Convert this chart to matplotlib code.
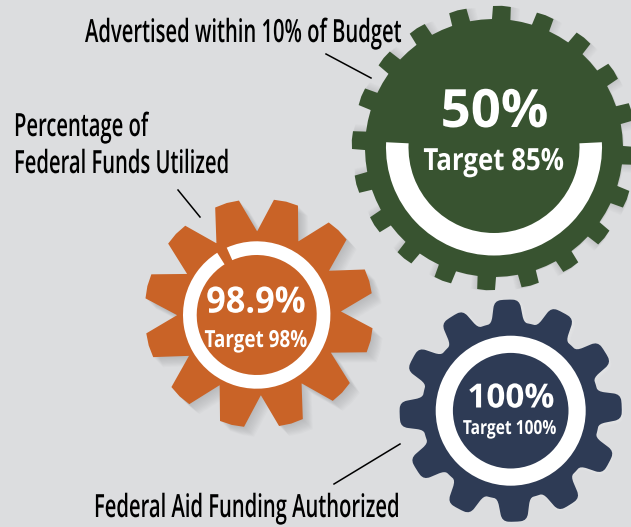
import numpy as np
import matplotlib
matplotlib.use("Agg")
import matplotlib.pyplot as plt
from matplotlib.patches import PathPatch, Wedge
from matplotlib.path import Path
from matplotlib.patheffects import AbstractPathEffect
from matplotlib.transforms import Affine2D

# values
labels = ["50%", "98.9%", "100%"]
targets = ["Target 85%", "Target 98%", "Target 100%"]
ring_spans = [185.6, 351.6, 360.0]  # degrees of white ring actually drawn
colors = ["#385330", "#c96327", "#2e3b55"]

BG = "#dcdddf"
FONT = ["Open Sans", "DejaVu Sans"]


# no condensed font installed, so squeeze the glyphs sideways when drawn
class Squeeze(AbstractPathEffect):
    def __init__(self, sx, x0):
        super().__init__()
        self.sx = sx
        self.x0 = x0

    def draw_path(self, renderer, gc, tpath, affine, rgbFace=None):
        t = affine + Affine2D().translate(-self.x0, 0).scale(self.sx, 1).translate(self.x0, 0)
        renderer.draw_path(gc, tpath, t, rgbFace)


def condText(x, y, s, size, sx, color="black", weight="normal", ha="center", va="center", zorder=5):
    x0 = ax.transData.transform((x, y))[0]
    t = ax.text(x, y, s, fontsize=size, family=FONT, color=color, fontweight=weight,
                ha=ha, va=va, zorder=zorder)
    t.set_path_effects([Squeeze(sx, x0)])
    return t


# outline of a gear, screen angles (y axis points down)
def gearPath(cx, cy, teeth, start, root, outer, base, top, rnd=0.0, rot=0.0):
    pts = []
    step = 360.0 / teeth
    for k in range(teeth):
        c = start + rot + k * step
        for a, r in [(c - base, root), (c - top, outer), (c, outer + 0.4), (c + top, outer), (c + base, root)]:
            pts.append((r * np.cos(np.radians(a)), r * np.sin(np.radians(a))))
        if step / 2 > base:
            a = c + step / 2
            pts.append((root * np.cos(np.radians(a)), root * np.sin(np.radians(a))))
    pts = np.array(pts) + [cx, cy]
    if rnd == 0:
        verts = list(pts) + [pts[0]]
        codes = [Path.MOVETO] + [Path.LINETO] * (len(pts) - 1) + [Path.CLOSEPOLY]
        return Path(verts, codes)
    verts, codes = [], []
    n = len(pts)
    for i in range(n):
        p, a, b = pts[i], pts[i - 1], pts[(i + 1) % n]
        d1 = min(rnd, np.linalg.norm(a - p) / 2)
        d2 = min(rnd, np.linalg.norm(b - p) / 2)
        p1 = p + (a - p) / np.linalg.norm(a - p) * d1
        p2 = p + (b - p) / np.linalg.norm(b - p) * d2
        verts.append(p1)
        codes.append(Path.MOVETO if i == 0 else Path.LINETO)
        verts += [p, p2]
        codes += [Path.CURVE3, Path.CURVE3]
    verts.append(verts[0])
    codes.append(Path.CLOSEPOLY)
    return Path(verts, codes)


fig = plt.figure(figsize=(6.31, 5.27), dpi=100, facecolor=BG)
ax = fig.add_axes([0, 0, 1, 1])
ax.set_xlim(0, 631)
ax.set_ylim(527, 0)
ax.axis("off")

gears = [
    dict(cx=494, cy=148, teeth=20, start=-86.8, root=129, outer=142, base=4.1, top=3.6, rnd=0,
         rx=494, ry=147.5, r1=108, r2=85.5, th=-2.8),
    dict(cx=259, cy=313.3, teeth=12, start=-76.3, root=81.7, outer=114.5, base=15.1, top=6.2, rnd=0,
         rx=256.7, ry=315, r1=73.7, r2=60, th=-114),
    dict(cx=510.7, cy=410.7, teeth=12, start=-92, root=89, outer=111, base=10.5, top=6.5, rnd=7,
         rx=510.7, ry=410.7, r1=75, r2=57.8, th=0),
]
shadows = [
    dict(rot=0.45, n=7, dx=0.2, dy=0.1, col="#a0a1a3", alpha=0.05),
    dict(rot=0.0, n=10, dx=1.0, dy=1.0, col="#8a8b8d", alpha=0.045),
    dict(rot=0.3, n=4, dx=0.4, dy=0.3, col="#f0f0f1", alpha=0.12),
]

for g, s, col, span in zip(gears, shadows, colors, ring_spans):
    args = (g["teeth"], g["start"], g["root"], g["outer"], g["base"], g["top"], g["rnd"])
    for i in range(s["n"], 0, -1):
        p = gearPath(g["cx"] + i * s["dx"], g["cy"] + i * s["dy"], *args, rot=i * s["rot"])
        ax.add_patch(PathPatch(p, fc=s["col"], ec="none", alpha=s["alpha"], zorder=1))
    ax.add_patch(PathPatch(gearPath(g["cx"], g["cy"], *args), fc=col, ec="none", zorder=2))
    ax.add_patch(Wedge((g["rx"], g["ry"]), g["r1"], g["th"], g["th"] + span,
                       width=g["r1"] - g["r2"], fc="white", ec="none", zorder=3))

# centre numbers
condText(494.5, 113, labels[0], 38, 1.0, "white", "bold")
condText(493.5, 162, targets[0], 22, 0.846, "white", "bold")
condText(256, 303.5, labels[1], 26, 0.95, "white", "bold")
condText(256, 341, targets[1], 17, 0.80, "white", "bold")
condText(511, 399, labels[2], 24, 1.0, "white", "bold")
condText(510, 429, targets[2], 14, 0.80, "white", "bold")

# callouts
condText(85, 42, "Advertised within 10% of Budget", 23, 0.632, weight="semibold", ha="left", va="baseline")
condText(14, 136, "Percentage of", 23, 0.632, weight="semibold", ha="left", va="baseline")
condText(14, 173, "Federal Funds Utilized", 23, 0.632, weight="semibold", ha="left", va="baseline")
condText(94, 517, "Federal Aid Funding Authorized", 23, 0.632, weight="semibold", ha="left", va="baseline")
ax.plot([326, 371], [54, 78], color="black", lw=1.1, zorder=4)
ax.plot([178, 200], [190, 217], color="black", lw=1.1, zorder=4)
ax.plot([334, 400], [484, 444], color="black", lw=1.1, zorder=4)

fig.savefig("out.png", dpi=100, facecolor=BG)
